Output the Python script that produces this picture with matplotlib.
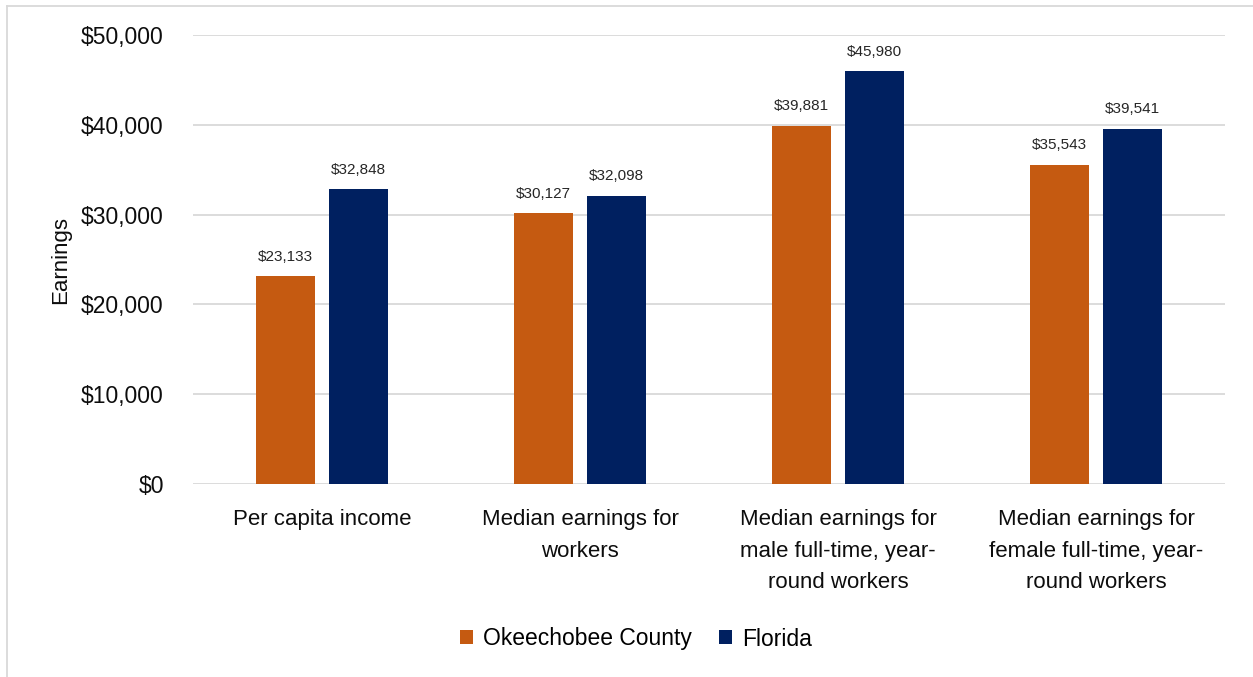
import matplotlib
matplotlib.use("Agg")
import matplotlib.pyplot as plt
from matplotlib.patches import Patch
from matplotlib.lines import Line2D
import numpy as np

plt.rcParams['font.family'] = ['Liberation Sans Narrow', 'Liberation Sans', 'DejaVu Sans']

categories = ["Per capita income", "Median earnings for\nworkers",
              "Median earnings for\nmale full-time, year-\nround workers",
              "Median earnings for\nfemale full-time, year-\nround workers"]
series_names = ["Okeechobee County", "Florida"]
okeechobee = [23133, 30127, 39881, 35543]
florida = [32848, 32098, 45980, 39541]
yticks = [0, 10000, 20000, 30000, 40000, 50000]
colors = ["#C55A11", "#002060"]

fig = plt.figure(figsize=(12.53, 6.77), dpi=100)
ax = fig.add_axes([193/1253, 1-484/677, (1225-193)/1253, (484-35)/677])

x = np.arange(len(categories))
w = 0.225
off = 0.1415
b1 = ax.bar(x - off, okeechobee, w, color=colors[0], label=series_names[0], zorder=3)
b2 = ax.bar(x + off, florida, w, color=colors[1], label=series_names[1], zorder=3)
for bars in (b1, b2):
    for r in bars:
        ax.annotate(f"${r.get_height():,.0f}", (r.get_x() + r.get_width()/2, r.get_height()),
                    xytext=(0, 9), textcoords="offset points", ha="center", va="bottom",
                    fontsize=11, color="#262626")

ax.set_xlim(-0.5, len(categories) - 0.5)
ax.set_ylim(0, 50000)
ax.set_yticks(yticks)
ax.set_yticklabels([f"${v:,.0f}" for v in yticks], fontsize=16.5, color="#0d0d0d")
ax.set_xticks(x)
ax.set_xticklabels(categories, fontsize=16, color="#0d0d0d", linespacing=1.66)
ax.tick_params(axis="both", length=0)
ax.tick_params(axis="x", pad=18)
ax.tick_params(axis="y", pad=21)
ax.grid(axis="y", color="#d9d9d9", linewidth=1.3, zorder=0)
for s in ax.spines.values():
    s.set_visible(False)
ax.set_ylabel("Earnings", fontsize=16, color="#0d0d0d")
ax.yaxis.set_label_coords(-0.118, 0.5)

handles = [Patch(facecolor=c, label=n) for c, n in zip(colors, series_names)]
fig.legend(handles=handles, loc="center", bbox_to_anchor=(636/1253, 1-639/677), ncol=2,
           frameon=False, fontsize=16.5, handlelength=0.55, handleheight=0.55,
           handletextpad=0.45, columnspacing=1.2)

# outer chart border
fig.add_artist(Line2D([7/1253, 7/1253], [0, 1-6/677], color="#d9d9d9", lw=1.3, transform=fig.transFigure))
fig.add_artist(Line2D([7/1253, 1], [1-6/677, 1-6/677], color="#d9d9d9", lw=1.3, transform=fig.transFigure))

fig.savefig("out.png", dpi=100)
